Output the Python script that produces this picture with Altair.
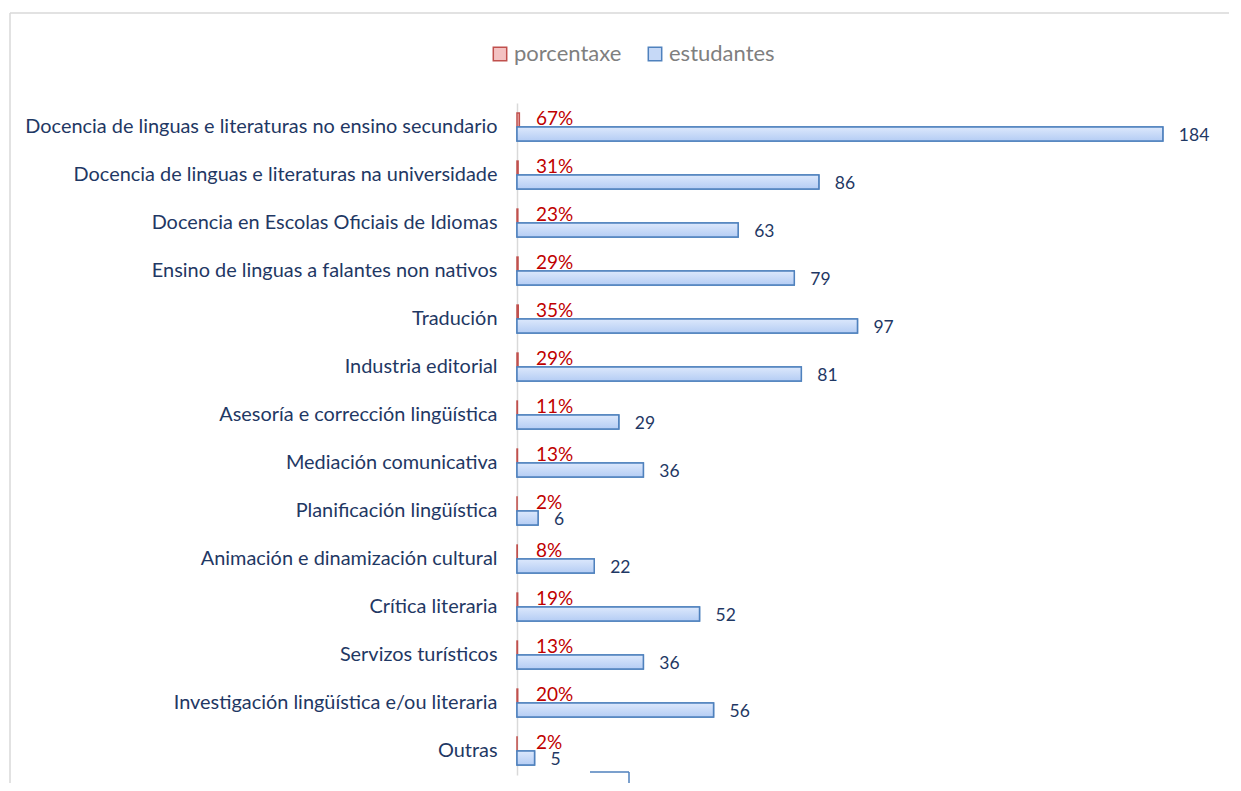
import altair as alt
import pandas as pd

categorias = [
    "Docencia de linguas e literaturas no ensino secundario",
    "Docencia de linguas e literaturas na universidade",
    "Docencia en Escolas Oficiais de Idiomas",
    "Ensino de linguas a falantes non nativos",
    "Tradución",
    "Industria editorial",
    "Asesoría e corrección lingüística",
    "Mediación comunicativa",
    "Planificación lingüística",
    "Animación e dinamización cultural",
    "Crítica literaria",
    "Servizos turísticos",
    "Investigación lingüística e/ou literaria",
    "Outras",
]
porcentaxe = [0.67, 0.31, 0.23, 0.29, 0.35, 0.29, 0.11, 0.13, 0.02, 0.08, 0.19, 0.13, 0.20, 0.02]
estudantes = [184, 86, 63, 79, 97, 81, 29, 36, 6, 22, 52, 36, 56, 5]
series = ["porcentaxe", "estudantes"]

rows = []
for c, p, e in zip(categorias, porcentaxe, estudantes):
    rows.append({"cat": c, "serie": "porcentaxe", "valor": p})
    rows.append({"cat": c, "serie": "estudantes", "valor": e})
df = pd.DataFrame(rows)

FONT = "Lato"
NAVY = "#1f3864"

y = alt.Y(
    "cat:N",
    sort=categorias,
    title=None,
    scale=alt.Scale(paddingInner=0.42, paddingOuter=0.21),
    axis=alt.Axis(
        labelFont=FONT, labelFontSize=19.9, labelColor=NAVY, labelPadding=20,
        ticks=False, domainColor="#d9d9d9", domainWidth=1.5, labelLimit=700,
        grid=False,
    ),
)
yoff = alt.YOffset("serie:N", sort=series,
                   scale=alt.Scale(domain=series, paddingInner=0, paddingOuter=0))
x = alt.X("valor:Q", scale=alt.Scale(domain=[0, 200]), axis=None)

legend = alt.Legend(
    title=None, orient="none", legendX=-28, legendY=-60, direction="horizontal",
    symbolType="square", symbolSize=180, symbolStrokeWidth=1.5,
    labelFont=FONT, labelFontSize=22, labelColor="#7f7f7f",
    columnPadding=22, labelOffset=3, padding=0,
)

base = alt.Chart(df).encode(y=y, yOffset=yoff)

bars = base.mark_bar(strokeWidth=1.5).encode(
    x=x,
    color=alt.Color("serie:N", sort=series,
                    scale=alt.Scale(domain=series, range=["#f4c2c2", "#c6d9f7"]),
                    legend=legend),
    stroke=alt.Stroke("serie:N", sort=series,
                      scale=alt.Scale(domain=series, range=["#c0504d", "#4f81bd"]),
                      legend=legend),
)

grad = alt.Gradient(
    gradient="linear", x1=0, y1=0, x2=0, y2=1,
    stops=[alt.GradientStop(color="#dce8fc", offset=0),
           alt.GradientStop(color="#b5cdf4", offset=1)],
)
blue = base.transform_filter(alt.datum.serie == "estudantes").mark_bar(
    fill=grad, stroke="#4f81bd", strokeWidth=1.5
).encode(x=x)

pct = base.transform_filter(alt.datum.serie == "porcentaxe").mark_text(
    align="left", baseline="middle", dx=19, dy=-1, color="#c00000",
    font=FONT, fontSize=19,
).encode(x=alt.value(0), text=alt.Text("valor:Q", format=".0%"))

cnt = base.transform_filter(alt.datum.serie == "estudantes").mark_text(
    align="left", baseline="middle", dx=16, dy=2, color=NAVY,
    font=FONT, fontSize=17.5,
).encode(x=x, text=alt.Text("valor:Q"))

frame_df = pd.DataFrame({"k": [0]})
frame_top = alt.Chart(frame_df).mark_rule(color="#d9d9d9", strokeWidth=1.5).encode(
    x=alt.value(-507), x2=alt.value(730), y=alt.value(-90), y2=alt.value(-90))
frame_left = alt.Chart(frame_df).mark_rule(color="#d9d9d9", strokeWidth=1.5).encode(
    x=alt.value(-507), x2=alt.value(-507), y=alt.value(-90), y2=alt.value(700))
art_top = alt.Chart(frame_df).mark_rule(color="#4f81bd", strokeWidth=1.5).encode(
    x=alt.value(73), x2=alt.value(112), y=alt.value(669), y2=alt.value(669))
art_right = alt.Chart(frame_df).mark_rule(color="#4f81bd", strokeWidth=1.5).encode(
    x=alt.value(112), x2=alt.value(112), y=alt.value(669), y2=alt.value(700))

chart = alt.layer(bars, blue, pct, cnt, frame_top, frame_left, art_top, art_right).properties(
    width=702, height=672,
    autosize=alt.AutoSizeParams(type="none"),
    padding={"left": 509, "top": 95, "right": 10, "bottom": 8},
).configure_view(stroke=None)

chart.save("out.html", embed_options={"renderer": "svg", "actions": False})
